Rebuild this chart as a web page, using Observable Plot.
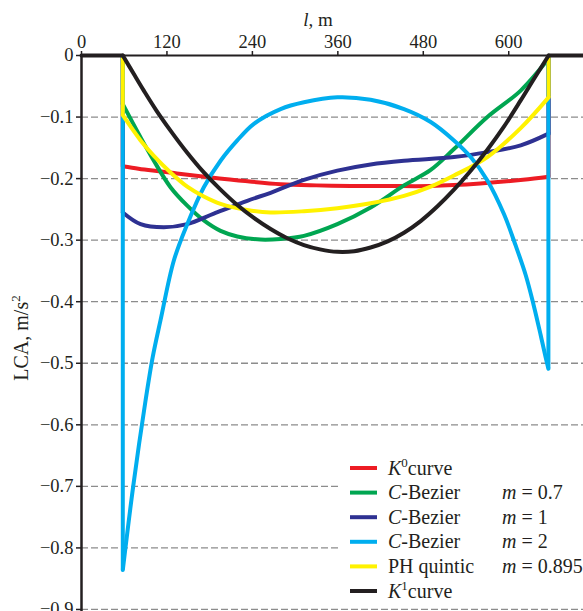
<!DOCTYPE html>
<html><head><meta charset="utf-8">
<script src="https://cdn.jsdelivr.net/npm/d3@7"></script>
<script src="https://cdn.jsdelivr.net/npm/@observablehq/plot@0.6"></script>
<style>
html,body{margin:0;padding:0;background:#fff}
#chart{width:583px;height:611px}
</style>
</head><body><div id="chart"></div>
<script>
// ---- axes / ticks ----
const xTicks = [0, 120, 240, 360, 480, 600];
const yTicks = [0, -0.1, -0.2, -0.3, -0.4, -0.5, -0.6, -0.7, -0.8, -0.9];
const xMax = 705;
const yMin = -0.9033;
const lStart = 58;   // start of transition
const lEnd = 656;    // end of transition

// ---- series (transition part, l in m, LCA in m/s^2) ----
const seriesNames = ["K0 curve", "C-Bezier m=0.7", "C-Bezier m=1", "C-Bezier m=2", "PH quintic m=0.895", "K1 curve"];
const seriesColors = ["#ed1c24", "#00a651", "#2e3192", "#00aeef", "#fff200", "#231f20"];

const lK0 = [58, 80, 100, 130, 167, 230, 280, 330, 378, 430, 490, 560, 620, 656];
const vK0 = [-0.180, -0.184, -0.187, -0.191, -0.196, -0.204, -0.209, -0.211, -0.212, -0.212, -0.212, -0.208, -0.202, -0.197];

const lCB07 = [58, 83, 101.6, 125, 148.5, 171.8, 195.3, 218.8, 251.5, 279.6, 312.4, 359.3, 406, 452.9, 490.4, 523.1, 570, 616.8, 656];
const vCB07 = [-0.079, -0.133, -0.171, -0.214, -0.244, -0.268, -0.285, -0.294, -0.299, -0.298, -0.293, -0.274, -0.247, -0.211, -0.186, -0.152, -0.100, -0.057, -0.005];

const lCB1 = [58, 83, 115.6, 148.5, 185.9, 232.8, 265.6, 312.4, 359.3, 406, 452.9, 523.1, 570, 616.8, 656];
const vCB1 = [-0.255, -0.274, -0.279, -0.274, -0.257, -0.236, -0.223, -0.202, -0.187, -0.177, -0.171, -0.165, -0.157, -0.146, -0.127];

const lCB2 = [58, 72.6, 89.9, 100, 111, 129.7, 148.5, 171.8, 195.3, 218.8, 242.1, 279.6, 312.4, 359.3, 406, 452.9, 490.4, 523.1, 546.6, 570, 593.4, 609.8, 623.9, 635.1, 645, 652, 655.7];
const vCB2 = [-0.836, -0.700, -0.561, -0.490, -0.430, -0.333, -0.274, -0.214, -0.171, -0.138, -0.111, -0.087, -0.076, -0.068, -0.072, -0.087, -0.108, -0.138, -0.165, -0.203, -0.258, -0.309, -0.357, -0.406, -0.455, -0.491, -0.509];

const lPH = [58, 83, 101.6, 125, 148.5, 171.8, 195.3, 232.8, 265.6, 312.4, 359.3, 406, 452.9, 490.4, 523.1, 570, 616.8, 656];
const vPH = [-0.097, -0.138, -0.163, -0.190, -0.213, -0.229, -0.241, -0.251, -0.255, -0.253, -0.248, -0.240, -0.228, -0.213, -0.195, -0.165, -0.118, -0.068];

const lK1 = [58, 75, 87.5, 105, 125, 148.5, 171.8, 195.3, 218.8, 242.1, 265.6, 289, 312.4, 335, 359.3, 383, 406, 430, 452.9, 476.3, 500, 523.1, 546, 570, 593, 616.8, 636, 656];
const vK1 = [0, -0.033, -0.057, -0.089, -0.122, -0.158, -0.190, -0.218, -0.243, -0.264, -0.282, -0.297, -0.308, -0.315, -0.319, -0.318, -0.312, -0.302, -0.288, -0.269, -0.245, -0.218, -0.188, -0.153, -0.116, -0.073, -0.037, 0];

// ---- legend labels ----
const legendMain = [
  [["K", "i"], ["0", "sup"], ["curve", ""]],
  [["C", "i"], ["-Bezier", ""]],
  [["C", "i"], ["-Bezier", ""]],
  [["C", "i"], ["-Bezier", ""]],
  [["PH quintic", ""]],
  [["K", "i"], ["1", "sup"], ["curve", ""]]
];
const legendParam = ["", "0.7", "1", "2", "0.895", ""];

// ---- build tables ----
const allL = [lK0, lCB07, lCB1, lCB2, lPH, lK1];
const allV = [vK0, vCB07, vCB1, vCB2, vPH, vK1];
const curves = [];
const jumps = [];
allL.forEach((ls, s) => {
  ls.forEach((l, i) => curves.push({s, l, v: allV[s][i]}));
  const v = allV[s];
  jumps.push({s, l: ls[0], y1: 0, y2: v[0]});
  jumps.push({s, l: ls[ls.length - 1], y1: 0, y2: v[v.length - 1]});
});
const flat = [{l: 0, v: 0}, {l: lStart, v: 0}, {l: lEnd, v: 0}, {l: xMax, v: 0}];

const LW = 4;
const marks = [
  Plot.ruleY(yTicks.filter(d => d !== 0), {stroke: "#8c8c8c", strokeWidth: 1.3, strokeDasharray: "7,3"})
];
for (let s = 0; s < 6; s++) {
  marks.push(Plot.ruleX(jumps.filter(d => d.s === s), {x: "l", y1: "y1", y2: "y2", stroke: seriesColors[s], strokeWidth: LW}));
  marks.push(Plot.line(curves.filter(d => d.s === s), {x: "l", y: "v", stroke: seriesColors[s], strokeWidth: LW, curve: "catmull-rom", strokeLinejoin: "round", strokeLinecap: "round"}));
}
marks.push(
  Plot.ruleY([0], {stroke: "#231f20", strokeWidth: 2}),
  Plot.line(flat.slice(0, 2), {x: "l", y: "v", stroke: "#231f20", strokeWidth: 4}),
  Plot.line(flat.slice(2), {x: "l", y: "v", stroke: "#231f20", strokeWidth: 4}),
  Plot.ruleX([0], {stroke: "#231f20", strokeWidth: 2.5}),
  Plot.axisX(xTicks, {anchor: "top", tickSize: 5, tickPadding: 3, fontSize: 18.5, stroke: "#231f20", strokeWidth: 1.5, label: null}),
  Plot.axisY(yTicks, {anchor: "left", tickSize: 5, tickPadding: 3, fontSize: 18.5, stroke: "#231f20", strokeWidth: 1.5, label: null,
    tickFormat: d => d === 0 ? "0" : d3.format(".1f")(d)})
);

const chart = Plot.plot({
  width: 583, height: 611,
  marginLeft: 81, marginRight: 0, marginTop: 55, marginBottom: 0,
  x: {domain: [0, xMax]},
  y: {domain: [yMin, 0]},
  style: {fontFamily: "'Liberation Serif', serif", fontSize: "18px", color: "#231f20", background: "#fff", overflow: "visible"},
  marks
});
document.getElementById("chart").appendChild(chart);

// ---- labels & legend ----
const svg = d3.select(chart);
const F = "'Liberation Serif', serif";
const tl = svg.append("text").attr("x", 318).attr("y", 26).attr("text-anchor", "middle")
  .attr("font-family", F).attr("font-size", 19).attr("fill", "#231f20");
tl.append("tspan").attr("font-style", "italic").text("l");
tl.append("tspan").text(", m");

const yl = svg.append("text").attr("transform", "translate(28,338) rotate(-90)").attr("text-anchor", "middle")
  .attr("font-family", F).attr("font-size", 20).attr("fill", "#231f20");
yl.append("tspan").text("LCA, m/s");
yl.append("tspan").attr("dy", -8).attr("font-size", 13).text("2");

const lg = svg.append("g").attr("text-anchor", "start");
lg.append("rect").attr("x", 340).attr("y", 452).attr("width", 243).attr("height", 150).attr("fill", "#fff");
const rowY0 = 468, rowDY = 24.6;
legendMain.forEach((parts, i) => {
  const y = rowY0 + i * rowDY;
  lg.append("line").attr("x1", 350).attr("x2", 377).attr("y1", y).attr("y2", y)
    .attr("stroke", seriesColors[i]).attr("stroke-width", 4);
  const t = lg.append("text").attr("x", 388).attr("y", y + 6.5).attr("text-anchor", "start")
    .attr("font-family", F).attr("font-size", 20).attr("fill", "#231f20");
  let shifted = false;
  parts.forEach(([txt, st]) => {
    const ts = t.append("tspan").text(txt);
    if (st === "i") ts.attr("font-style", "italic");
    if (st === "sup") { ts.attr("font-size", 13).attr("dy", -8); shifted = true; }
    else if (shifted) { ts.attr("dy", 8); shifted = false; }
  });
  if (legendParam[i]) {
    const p = lg.append("text").attr("x", 502).attr("y", y + 6.5).attr("text-anchor", "start")
      .attr("font-family", F).attr("font-size", 20).attr("fill", "#231f20");
    p.append("tspan").attr("font-style", "italic").text("m");
    p.append("tspan").text(" = " + legendParam[i]);
  }
});
</script>
</body></html>
